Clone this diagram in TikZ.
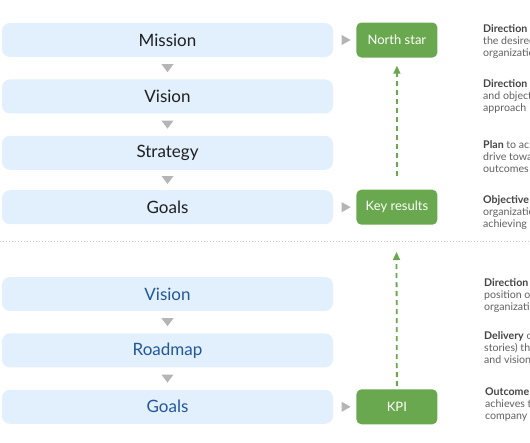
\documentclass[tikz,border=0pt]{standalone}
\usepackage{fontspec}
\setmainfont{Lato}
\usetikzlibrary{positioning,calc,arrows.meta}
\definecolor{boxblue}{HTML}{E2EFFC}
\definecolor{keygreen}{HTML}{6AA84F}
\definecolor{arrowgray}{HTML}{B5B5B5}
\definecolor{navy}{HTML}{22589A}
\definecolor{notegray}{HTML}{606060}
\definecolor{notedark}{HTML}{444444}
\begin{document}
\begin{tikzpicture}[x=1pt,y=-1pt,
  plan/.style={rectangle,rounded corners=8pt,fill=boxblue,minimum width=331pt,minimum height=34pt,
    inner sep=0pt,text=black!88,font=\fontsize{17}{20}\selectfont},
  metric/.style={rectangle,rounded corners=5pt,fill=keygreen,minimum width=81pt,minimum height=35pt,
    inner sep=0pt,text=white,font=\fontsize{13}{15}\selectfont},
  note/.style={anchor=base west,align=left,inner sep=0pt,text=notegray,
    font=\fontsize{10.6}{12}\selectfont},
  liftarrow/.style={draw=keygreen,line width=1.8pt,dash pattern=on 5pt off 4pt,
    -{Triangle[width=7pt,length=8pt]}}]
\useasboundingbox (0,0) rectangle (530,442);
\clip (0,0) rectangle (530,442);
\node [plan] (mission) at (167.5,40) {Mission};
\node [plan,below=22pt of mission] (vision) {Vision};
\node [plan,below=22pt of vision] (strategy) {Strategy};
\node [plan,below=20pt of strategy] (goals) {Goals};
\node [plan,text=navy] (vision2) at (167.5,294) {Vision};
\node [plan,text=navy,below=22pt of vision2] (roadmap) {Roadmap};
\node [plan,text=navy,below=22pt of roadmap] (goals2) {Goals};
\node [metric,right=23pt of mission] (north) {North star};
\node [metric,right=23pt of goals] (keyres) {Key results};
\node [metric,right=23pt of goals2] (kpi) {KPI};
\foreach \a/\b in {mission/vision,vision/strategy,strategy/goals,vision2/roadmap,roadmap/goals2}
  \fill [arrowgray] ($(\a.south)!0.5!(\b.north)$) +(-6,-4) -- +(6,-4) -- +(0,4) -- cycle;
\foreach \a/\b in {mission/north,goals/keyres,goals2/kpi}
  \fill [arrowgray] ($(\a.east)!0.5!(\b.west)$) +(-3,-5) -- +(6,0) -- +(-3,5) -- cycle;
\coordinate (sepl) at (0,241);
\coordinate (sepr) at (530,241);
\draw [dotted,line width=1pt,black!22] (sepl) -- (sepr);
\coordinate (liftend) at (396.5,252);
\draw [liftarrow] ([yshift=14pt]keyres.north) -- ([yshift=-8pt]north.south);
\draw [liftarrow] ([yshift=3pt]kpi.north) -- (liftend);
\node [note] (n1) at (483,56) {\textcolor{notedark}{\bfseries Direction} w\\the desired\\organizatio};
\node [note] (n2) at (483,111) {\textcolor{notedark}{\bfseries Direction}\\and objecti\\approach};
\node [note] (n3) at (483,172) {\textcolor{notedark}{\bfseries Plan} to ach\\drive towar\\outcomes};
\node [note] (n4) at (483,227) {\textcolor{notedark}{\bfseries Objective}\\organizatio\\achieving};
\node [note] (n5) at (484,310) {\textcolor{notedark}{\bfseries Direction}\\position of\\organizatio};
\node [note] (n6) at (484,363) {\textcolor{notedark}{\bfseries Delivery} o\\stories) th\\and vision};
\node [note] (n7) at (485,419) {\textcolor{notedark}{\bfseries Outcome}\\achieves th\\company};
\end{tikzpicture}
\end{document}
